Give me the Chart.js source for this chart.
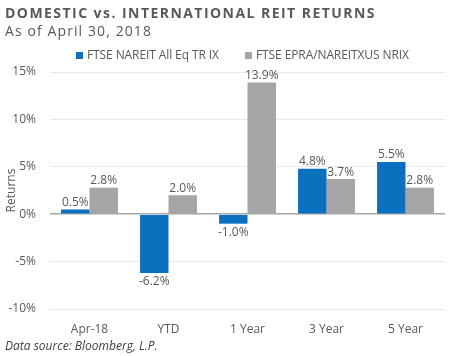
<!DOCTYPE html>
<html>
<head>
<meta charset="utf-8">
<script src="https://cdn.jsdelivr.net/npm/chart.js@4.4.1/dist/chart.umd.min.js"></script>
<style>
html,body{margin:0;padding:0;background:#fff;}
#wrap{position:relative;width:450px;height:356px;overflow:hidden;}
#t1{position:absolute;left:5px;top:3px;font-family:"Open Sans";font-weight:700;font-size:14px;letter-spacing:1.45px;color:#595959;white-space:nowrap;}
#t2{position:absolute;left:5px;top:21px;font-family:"Open Sans";font-size:14px;letter-spacing:1.1px;color:#595959;white-space:nowrap;}
#foot{position:absolute;left:5px;top:337px;font-family:"Open Sans";font-style:italic;font-size:12px;color:#404040;white-space:nowrap;}
.lg{position:absolute;top:47px;font-family:"Open Sans";font-size:12px;color:#595959;white-space:nowrap;line-height:16px;letter-spacing:-0.1px;}
.lg span{display:inline-block;width:7px;height:7px;margin-right:4px;vertical-align:0px;}
canvas{position:absolute;left:0;top:0;}
</style>
</head>
<body>
<div id="wrap">
<canvas id="c" width="450" height="356"></canvas>
<div id="t1">DOMESTIC vs. INTERNATIONAL REIT RETURNS</div>
<div id="t2">As of April 30, 2018</div>
<div class="lg" id="lg0" style="left:76px"><span style="background:#0b70bd"></span><b style="font-weight:400"></b></div>
<div class="lg" id="lg1" style="left:245px"><span style="background:#a5a5a7"></span><b style="font-weight:400"></b></div>
<div id="foot">Data source: Bloomberg, L.P.</div>
</div>
<script>
const categories = ["Apr-18", "YTD", "1 Year", "3 Year", "5 Year"];
const seriesNames = ["FTSE NAREIT All Eq TR IX", "FTSE EPRA/NAREITXUS NRIX"];
const domestic = [0.5, -6.2, -1.0, 4.8, 5.5];
const international = [2.8, 2.0, 13.9, 3.7, 2.8];
const yTicks = [-10, -5, 0, 5, 10, 15];
const colors = ['#0b70bd', '#a5a5a7'];

document.querySelector('#lg0 b').textContent = seriesNames[0];
document.querySelector('#lg1 b').textContent = seriesNames[1];

const labelPlugin = {
  id: 'barLabels',
  afterDatasetsDraw(chart) {
    const ctx = chart.ctx;
    ctx.save();
    ctx.font = '12px "Open Sans"';
    ctx.fillStyle = '#595959';
    ctx.textAlign = 'center';
    chart.data.datasets.forEach((ds, i) => {
      const meta = chart.getDatasetMeta(i);
      meta.data.forEach((bar, j) => {
        const v = ds.data[j];
        const txt = v.toFixed(1) + '%';
        if (v >= 0) {
          ctx.textBaseline = 'bottom';
          ctx.fillText(txt, bar.x, bar.y - 1);
        } else {
          ctx.textBaseline = 'top';
          ctx.fillText(txt, bar.x, bar.y + 3);
        }
      });
    });
    const a = chart.chartArea;
    ctx.translate(12, (a.top + a.bottom) / 2);
    ctx.rotate(-Math.PI / 2);
    ctx.textBaseline = 'middle';
    ctx.fillText('Returns', 0, 0);
    ctx.restore();
  }
};

new Chart(document.getElementById('c'), {
  type: 'bar',
  data: {
    labels: categories,
    datasets: [
      {label: seriesNames[0], data: domestic, backgroundColor: colors[0], borderWidth: 0},
      {label: seriesNames[1], data: international, backgroundColor: colors[1], borderWidth: 0}
    ]
  },
  options: {
    responsive: false,
    animation: false,
    layout: {padding: {top: 72, bottom: 20, left: 4, right: 5}},
    datasets: {bar: {categoryPercentage: 0.72, barPercentage: 1.0}},
    plugins: {
      legend: {display: false},
      tooltip: {enabled: false},
      title: {display: false}
    },
    scales: {
      x: {
        grid: {display: false},
        border: {display: false},
        afterFit(axis) { axis.height = 27; },
        ticks: {font: {family: 'Open Sans', size: 12}, color: '#595959', padding: 5}
      },
      y: {
        min: -10, max: 15,
        afterBuildTicks(axis) { axis.ticks = yTicks.map(v => ({value: v})); },
        afterFit(axis) { axis.width = 46; },
        grid: {
          drawTicks: false,
          color: ctx => ctx.tick && ctx.tick.value === 0 ? '#a6a6a6' : '#e9e9e9',
          lineWidth: ctx => ctx.tick && ctx.tick.value === 0 ? 1.5 : 1
        },
        border: {display: false},
        ticks: {
          font: {family: 'Open Sans', size: 12}, color: '#595959', padding: 14,
          callback: v => v + '%'
        }
      }
    }
  },
  plugins: [labelPlugin]
});
</script>
</body>
</html>
